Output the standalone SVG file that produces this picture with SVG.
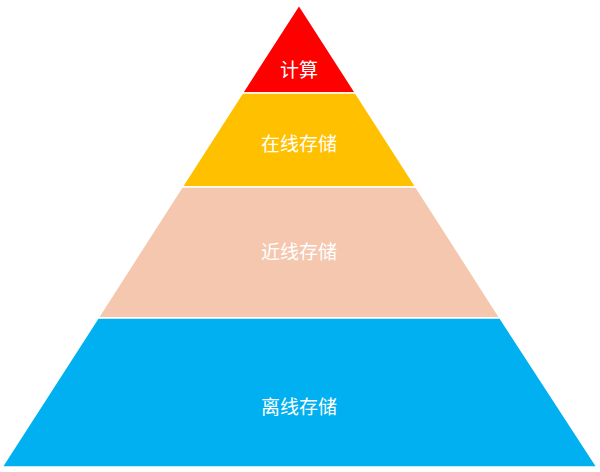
<svg xmlns="http://www.w3.org/2000/svg" width="600" height="472" viewBox="0 0 600 472">
<style>
.t{fill:#fff;font-family:"Noto Sans CJK SC","Noto Sans",sans-serif;font-size:19px;text-anchor:middle;dominant-baseline:central}
.b{stroke:#fff;stroke-width:1.5}
</style>
<rect width="600" height="472" fill="#fff"/>
<g id="compute"><polygon class="b" points="299,5 242.4,93 355.6,93" fill="#FF0000"/><text class="t" x="299" y="68">计算</text></g>
<g id="online"><polygon class="b" points="242.4,93 355.6,93 416,187 182,187" fill="#FFC000"/><text class="t" x="299" y="142">在线存储</text></g>
<g id="nearline"><polygon class="b" points="182,187 416,187 500,318 98,318" fill="#F4C7AE"/><text class="t" x="299" y="250">近线存储</text></g>
<g id="offline"><polygon class="b" points="98,318 500,318 597,467 2,467" fill="#00B0F0"/><text class="t" x="299" y="405">离线存储</text></g>
<g id="connectors"/>
</svg>
